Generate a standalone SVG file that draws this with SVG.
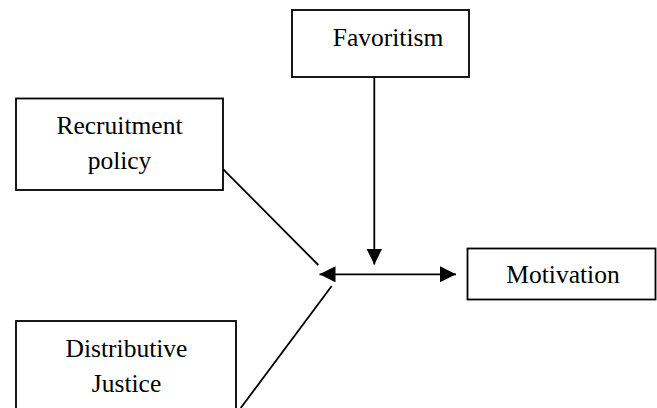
<svg xmlns="http://www.w3.org/2000/svg" width="657" height="408" viewBox="0 0 657 408">
<style>
.box{fill:#fff;stroke:#000;stroke-width:1.8}
.lbl{font-family:"Liberation Serif","Times New Roman",serif;font-size:25.5px;fill:#000;text-anchor:middle}
.ln{stroke:#000;stroke-width:1.8;fill:none}
</style>
<defs>
<marker id="ah" viewBox="0 0 16 16" refX="16" refY="8" markerWidth="16" markerHeight="16" markerUnits="userSpaceOnUse" orient="auto-start-reverse">
<path d="M0,0 L16,8 L0,16 Z" fill="#000"/>
</marker>
</defs>
<g id="favoritism"><rect class="box" x="292" y="10" width="177" height="67"/><text class="lbl" x="388" y="46">Favoritism</text></g>
<g id="recruitment"><rect class="box" x="16" y="98.5" width="207" height="91.5"/><text class="lbl" x="119.5" y="134">Recruitment</text><text class="lbl" x="119.5" y="169">policy</text></g>
<g id="distributive"><rect class="box" x="16" y="321" width="220" height="95"/><text class="lbl" x="126.5" y="357">Distributive</text><text class="lbl" x="126.5" y="392">Justice</text></g>
<g id="motivation"><rect class="box" x="467.5" y="248.5" width="188" height="51"/><text class="lbl" x="563" y="283">Motivation</text></g>
<g id="connectors">
<line class="ln" x1="374.3" y1="77" x2="374.3" y2="264.5" marker-end="url(#ah)"/>
<line class="ln" x1="319.5" y1="274.3" x2="456" y2="274.3" marker-start="url(#ah)" marker-end="url(#ah)"/>
<line class="ln" x1="223.3" y1="169.3" x2="318.3" y2="265"/>
<line class="ln" x1="240.7" y1="408" x2="331.7" y2="286"/>
</g>
</svg>
